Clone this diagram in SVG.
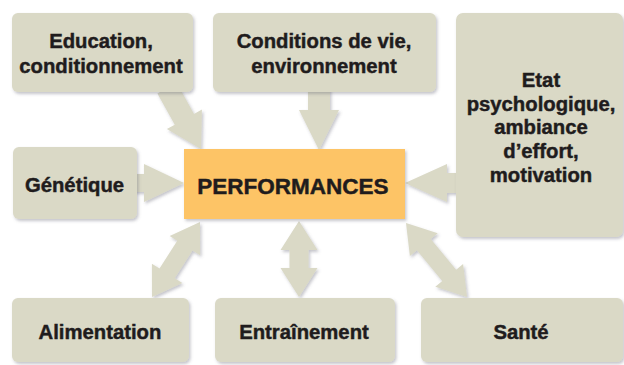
<svg xmlns="http://www.w3.org/2000/svg" width="624" height="365" viewBox="0 0 624 365">
  <defs>
    <filter id="shadow" x="-10%" y="-10%" width="125%" height="125%">
      <feDropShadow dx="1.5" dy="2" stdDeviation="1.5" flood-color="#5a5a6a" flood-opacity="0.35"/>
    </filter>
    <style>
      .box { fill: #dad9c6; filter: url(#shadow); }
      .core { fill: #fdc466; filter: url(#shadow); }
      .arrow { fill: #dad9c6; filter: url(#shadow); }
      .label { font-family: "Liberation Sans", Arial, Helvetica, sans-serif; font-weight: bold; font-size: 20.3px; fill: #1f1c1d; stroke: #1f1c1d; stroke-width: 0.45; text-anchor: middle; }
      .big { font-size: 22.5px; }
    </style>
  </defs>

  <rect width="624" height="365" fill="#ffffff"/>

  <!-- connectors: block arrows pointing to / from the central box -->
  <g id="connectors">
    <polygon class="arrow" points="157.4,93.4 174.8,124.7 166.9,129 201,149 201.9,109.6 194,113.9 176.6,82.6"/>
    <polygon class="arrow" points="308,88 308,110 299,110 319,150 339,110 330,110 330,88"/>
    <polygon class="arrow" points="132,174 144,174 144,164 184,183 144,202 144,192 132,192"/>
    <polygon class="arrow" points="462,173 447,173 447,164 405,183 447,202 447,193 462,193"/>
    <polygon class="arrow" points="200,222 169.7,235.9 177.3,240.7 159.5,268.5 151.9,263.7 152,297 182.3,283.1 174.7,278.3 192.5,250.5 200.1,255.3"/>
    <polygon class="arrow" points="299,221 280.5,250 289.5,250 289.5,268 280.5,268 299,297 317.5,268 308.5,268 308.5,250 317.5,250"/>
    <polygon class="arrow" points="406,223 409.9,256 416.9,250.3 442.3,281.1 435.3,286.8 467,297 463.1,264 456.1,269.7 430.7,238.9 437.7,233.2"/>
  </g>

  <g id="education">
    <rect class="box" x="12" y="13" width="181" height="79" rx="6"/>
    <text class="label" x="101" y="48">Education,</text>
    <text class="label" x="101" y="72.5">conditionnement</text>
  </g>

  <g id="conditions">
    <rect class="box" x="213" y="13" width="223" height="79" rx="6"/>
    <text class="label" x="324" y="48">Conditions de vie,</text>
    <text class="label" x="324" y="72.5">environnement</text>
  </g>

  <g id="etat">
    <rect class="box" x="456" y="13" width="167" height="224" rx="7"/>
    <text class="label" x="541" y="87">Etat</text>
    <text class="label" x="541" y="110.7">psychologique,</text>
    <text class="label" x="541" y="134.4">ambiance</text>
    <text class="label" x="541" y="158">d’effort,</text>
    <text class="label" x="541" y="181.7">motivation</text>
  </g>

  <g id="genetique">
    <rect class="box" x="13" y="147" width="124" height="72" rx="6"/>
    <text class="label" x="74.5" y="192">Génétique</text>
  </g>

  <g id="performances">
    <rect class="core" x="184" y="149" width="221" height="70"/>
    <text class="label big" x="293" y="194">PERFORMANCES</text>
  </g>

  <g id="alimentation">
    <rect class="box" x="12" y="298" width="177" height="64" rx="6"/>
    <text class="label" x="100" y="339">Alimentation</text>
  </g>

  <g id="entrainement">
    <rect class="box" x="215" y="298" width="180" height="64" rx="6"/>
    <text class="label" x="304" y="339">Entraînement</text>
  </g>

  <g id="sante">
    <rect class="box" x="421" y="298" width="202" height="64" rx="6"/>
    <text class="label" x="521" y="339">Santé</text>
  </g>
</svg>
